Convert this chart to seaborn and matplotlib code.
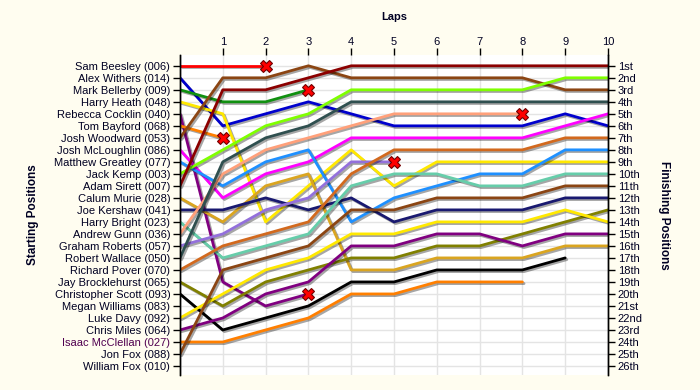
import pandas as pd
import seaborn as sns
import matplotlib
matplotlib.use('Agg')
import matplotlib.pyplot as plt
import matplotlib.patheffects as pe

# grid order (starting positions)
drivers = [
    'Sam Beesley (006)', 'Alex Withers (014)', 'Mark Bellerby (009)',
    'Harry Heath (048)', 'Rebecca Cocklin (040)', 'Tom Bayford (068)',
    'Josh Woodward (053)', 'Josh McLoughlin (086)', 'Matthew Greatley (077)',
    'Jack Kemp (003)', 'Adam Sirett (007)', 'Calum Murie (028)',
    'Joe Kershaw (041)', 'Harry Bright (023)', 'Andrew Gunn (036)',
    'Graham Roberts (057)', 'Robert Wallace (050)', 'Richard Pover (070)',
    'Jay Brocklehurst (065)', 'Christopher Scott (093)', 'Megan Williams (083)',
    'Luke Davy (092)', 'Chris Miles (064)', 'Isaac McClellan (027)',
    'Jon Fox (088)', 'William Fox (010)',
]

# position at end of each lap, lap 0 = grid; None = no line drawn
positions = [
    [1, 1, 1],
    [2, 6, 5, 4, 5, 6, 6, 6, 6, 5, 6],
    [3, 4, 4, 3],
    [4, 5, 14, 11, 8, 11, 9, 9, 9, 9, 9],
    [5, 19, 21, 20],
    [6, 7],
    [7, 2, 2, 1, 2, 2, 2, 2, 2, 3, 3],
    [8, 12, 10, 9, 7, 7, 7, 7, 7, 6, 5],
    [9, 11, 9, 8, 14, 12, 11, 10, 10, 8, 8],
    [10, 8, 6, 5, 3, 3, 3, 3, 3, 2, 2],
    [11, 3, 3, 2, 1, 1, 1, 1, 1, 1, 1],
    [12, 14, 11, 10, 18, 18, 17, 17, 17, 16, 16],
    [13, 13, 12, 13, 12, 14, 13, 13, 13, 12, 12],
    [14, 17, 16, 15, 11, 10, 10, 11, 11, 10, 10],
    [15, 10, 8, 7, 6, 5, 5, 5, 5],
    [16, 15, 13, 12, 9, 9],
    [17, 9, 7, 6, 4, 4, 4, 4, 4, 4, 4],
    [18, 16, 15, 14, 10, 8, 8, 8, 8, 7, 7],
    [19, 21, 19, 18, 17, 17, 16, 16, 15, 14, 13],
    [20, 23, 22, 21, 19, 19, 18, 18, 18, 17],
    None,
    [22, 20, 18, 17, 15, 15, 14, 14, 14, 13, 14],
    [23, 22, 20, 19, 16, 16, 15, 15, 16, 15, 15],
    [24, 24, 23, 22, 20, 20, 19, 19, 19],
    [25, 18, 17, 16, 13, 13, 12, 12, 12, 11, 11],
    None,
]

colors = [
    '#FF0000', '#0000CD', '#109010', '#FFE800', '#800080', '#FF7F00',
    '#8B4513', '#FF00FF', '#1E90FF', '#7FFF00', '#8B0000', '#DAA520',
    '#191970', '#66CDAA', '#FFA07A', '#9370DB', '#2F4F4F', '#D2691E',
    '#808000', '#000000', '#999999', '#FFE800', '#800080', '#FF7F00',
    '#8B4513', '#999999',
]

retired = ['Sam Beesley (006)', 'Mark Bellerby (009)', 'Rebecca Cocklin (040)',
           'Tom Bayford (068)', 'Andrew Gunn (036)', 'Graham Roberts (057)']

finish_labels = ['1st', '2nd', '3rd'] + [f'{n}th' for n in range(4, 21)] + \
    ['21st', '22nd', '23rd', '24th', '25th', '26th']

lap_ticks = list(range(1, 11))

rows = []
for name, pos in zip(drivers, positions):
    if pos is None:
        continue
    for lap, p in enumerate(pos):
        rows.append({'driver': name, 'lap': lap, 'position': p})
df = pd.DataFrame(rows)
palette = dict(zip(drivers, colors))

sns.set_theme(style='white')
plt.rcParams['font.family'] = ['Liberation Sans', 'DejaVu Sans']
plt.rcParams.update({
    'font.size': 8,
    'xtick.labelsize': 8,
    'ytick.labelsize': 8,
    'axes.labelsize': 8,
})

bg = '#FFFDF0'
txt = '#000022'
fig = plt.figure(figsize=(7, 3.9), dpi=100, facecolor=bg)
ax = fig.add_axes([180 / 700, 15 / 390, 428 / 700, 320 / 390])
ax.set_facecolor('white')

for x in range(0, 11):
    ax.axvline(x, color='#E4E4E4', lw=1, zorder=0)
for y in range(1, 27):
    ax.axhline(y, color='#E4E4E4', lw=1, zorder=0)

sns.lineplot(data=df, x='lap', y='position', hue='driver',
             hue_order=[d for d, p in zip(drivers, positions) if p is not None],
             palette=palette, estimator=None, sort=False, legend=False,
             lw=2, ax=ax)
for line in ax.get_lines():
    if line.get_linewidth() >= 2:
        line.set_path_effects([
            pe.SimpleLineShadow(offset=(1.2, -1.2), shadow_color='black', alpha=0.35),
            pe.Normal(),
        ])

for name in retired:
    last = df[df['driver'] == name].iloc[-1]
    ax.plot(last['lap'], last['position'], marker='X', ms=9, color='#FF0000',
            mec='#700000', mew=0.8, zorder=5, clip_on=False)

ax.set_xlim(0, 10)
ax.set_ylim(26.75, 0.1)

ax.xaxis.tick_top()
ax.xaxis.set_label_position('top')
ax.set_xticks(lap_ticks)
ax.set_xticklabels([str(t) for t in lap_ticks], color=txt)
ax.set_xlabel('Laps', fontweight='bold', color=txt)
ax.xaxis.set_label_coords(0.5, 1.11)

ax.set_yticks(range(1, 27))
ax.set_yticklabels(drivers, color=txt)
for lbl in ax.get_yticklabels():
    if lbl.get_text().startswith('Isaac'):
        lbl.set_color('#500050')
ax.set_ylabel('Starting Positions', fontweight='bold', color=txt, fontsize=8.5)
ax.yaxis.set_label_coords(-0.33, 0.5)
ax.tick_params(axis='y', length=5, width=1, color='black', pad=2, left=True)
ax.tick_params(axis='x', length=5, width=1, color='black', pad=1,
               top=True, bottom=False)

ax2 = ax.twinx()
ax2.set_ylim(ax.get_ylim())
ax2.set_yticks(range(1, 27))
ax2.set_yticklabels(finish_labels, color=txt)
ax2.set_ylabel('Finishing Positions', fontweight='bold', color=txt,
               fontsize=8.5, rotation=270)
ax2.yaxis.set_label_coords(1.145, 0.5)
ax2.tick_params(axis='y', length=5, width=1, color='black', pad=2, right=True)

for a in (ax, ax2):
    for side in ('top', 'bottom'):
        a.spines[side].set_visible(False)
    for side in ('left', 'right'):
        a.spines[side].set_color('black')
        a.spines[side].set_linewidth(1)

plt.savefig('out.png', dpi=100, facecolor=bg)
